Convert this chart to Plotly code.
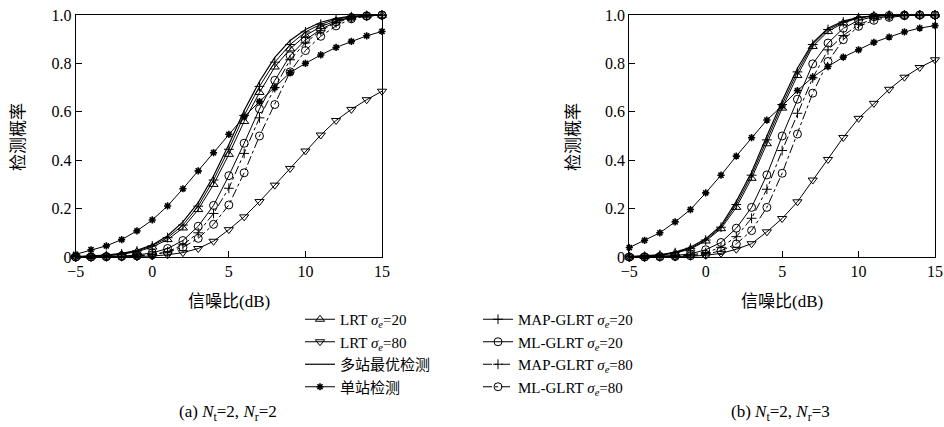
import plotly.graph_objects as go

snr = list(range(-5, 16))

# (a) Nt=2, Nr=2
a_lrt20 = [0.001,0.002,0.005,0.011,0.022,0.041,0.072,0.12,0.196,0.30,0.424,0.56,0.68,0.785,0.86,0.915,0.952,0.976,0.99,0.997,0.999]
a_lrt80 = [0.0,0.0,0.001,0.001,0.002,0.004,0.009,0.018,0.035,0.065,0.113,0.166,0.229,0.297,0.366,0.438,0.504,0.564,0.61,0.65,0.685]
a_opt = [0.002,0.004,0.008,0.015,0.028,0.05,0.088,0.145,0.225,0.335,0.465,0.605,0.725,0.825,0.895,0.94,0.97,0.986,0.995,0.998,1.0]
a_single = [0.011,0.03,0.046,0.072,0.108,0.153,0.211,0.282,0.356,0.431,0.507,0.58,0.642,0.70,0.762,0.80,0.835,0.866,0.891,0.914,0.932]
a_map20 = [0.001,0.003,0.006,0.013,0.025,0.046,0.08,0.132,0.21,0.318,0.445,0.585,0.705,0.805,0.878,0.93,0.962,0.982,0.993,0.998,1.0]
a_ml20 = [0.0,0.001,0.002,0.004,0.008,0.017,0.035,0.068,0.127,0.213,0.336,0.47,0.612,0.73,0.832,0.897,0.94,0.972,0.99,0.997,1.0]
a_map80 = [0.0,0.0,0.001,0.002,0.005,0.01,0.022,0.05,0.10,0.18,0.284,0.428,0.575,0.70,0.815,0.885,0.935,0.968,0.988,0.996,0.999]
a_ml80 = [0.0,0.0,0.001,0.002,0.004,0.009,0.02,0.04,0.077,0.135,0.215,0.348,0.50,0.63,0.765,0.853,0.912,0.955,0.984,0.995,0.999]

# (b) Nt=2, Nr=3
b_lrt20 = [0.0,0.002,0.007,0.016,0.033,0.066,0.117,0.205,0.325,0.468,0.615,0.75,0.87,0.932,0.967,0.988,0.996,0.999,1.0,1.0,1.0]
b_lrt80 = [0.0,0.0,0.0,0.001,0.003,0.007,0.015,0.032,0.055,0.104,0.159,0.228,0.318,0.403,0.494,0.573,0.635,0.693,0.743,0.783,0.815]
b_opt = [0.002,0.004,0.009,0.02,0.04,0.075,0.13,0.23,0.35,0.50,0.645,0.78,0.885,0.945,0.975,0.99,0.997,0.999,1.0,1.0,1.0]
b_single = [0.039,0.069,0.10,0.145,0.196,0.265,0.338,0.417,0.493,0.566,0.624,0.688,0.743,0.787,0.826,0.856,0.887,0.909,0.93,0.946,0.956]
b_map20 = [0.001,0.003,0.008,0.018,0.036,0.07,0.123,0.217,0.338,0.484,0.63,0.765,0.878,0.94,0.971,0.989,0.997,0.999,1.0,1.0,1.0]
b_ml20 = [0.0,0.001,0.002,0.006,0.013,0.03,0.06,0.119,0.205,0.339,0.50,0.652,0.798,0.884,0.945,0.978,0.993,0.998,1.0,1.0,1.0]
b_map80 = [0.0,0.0,0.001,0.003,0.008,0.018,0.04,0.084,0.16,0.28,0.44,0.594,0.74,0.856,0.915,0.96,0.985,0.995,0.999,1.0,1.0]
b_ml80 = [0.0,0.0,0.001,0.002,0.005,0.011,0.026,0.054,0.109,0.205,0.346,0.508,0.677,0.808,0.898,0.953,0.978,0.99,0.997,1.0,1.0]

names = ["LRT <i>σ</i><sub><i>e</i></sub>=20", "LRT <i>σ</i><sub><i>e</i></sub>=80",
         "多站最优检测", "单站检测",
         "MAP-GLRT <i>σ</i><sub><i>e</i></sub>=20", "ML-GLRT <i>σ</i><sub><i>e</i></sub>=20",
         "MAP-GLRT <i>σ</i><sub><i>e</i></sub>=80", "ML-GLRT <i>σ</i><sub><i>e</i></sub>=80"]

xticks = [-5, 0, 5, 10, 15]
yticks = [0, 0.2, 0.4, 0.6, 0.8, 1.0]
yticktext = ["0", "0.2", "0.4", "0.6", "0.8", "1.0"]

styles = [
    dict(sym="triangle-up-open", size=8, dash="solid", lw=1.0),
    dict(sym="triangle-down-open", size=8, dash="solid", lw=1.0),
    dict(sym=None, size=0, dash="solid", lw=1.2),
    dict(sym="asterisk-open", size=6, dash="solid", lw=1.0),
    dict(sym="cross-thin-open", size=7, dash="solid", lw=1.0),
    dict(sym="circle-open", size=8, dash="solid", lw=1.0),
    dict(sym="cross-thin-open", size=7, dash="dashdot", lw=1.0),
    dict(sym="circle-open", size=8, dash="dashdot", lw=1.0),
]
legends = ["legend", "legend", "legend", "legend", "legend2", "legend2", "legend2", "legend2"]

data_a = [a_lrt20, a_lrt80, a_opt, a_single, a_map20, a_ml20, a_map80, a_ml80]
data_b = [b_lrt20, b_lrt80, b_opt, b_single, b_map20, b_ml20, b_map80, b_ml80]

fig = go.Figure()

def add(ys, i, xa, ya, show):
    st = styles[i]
    mode = "lines+markers" if st["sym"] else "lines"
    marker = dict(symbol=st["sym"], size=st["size"], color="black",
                  line=dict(color="black", width=1.6 if "asterisk" in (st["sym"] or "") else 1.0)) if st["sym"] else None
    fig.add_trace(go.Scatter(
        x=snr, y=ys, mode=mode, name=names[i],
        line=dict(color="black", width=st["lw"], dash=st["dash"]),
        marker=marker, xaxis=xa, yaxis=ya, showlegend=show,
        legend=legends[i], cliponaxis=False))

for i, ys in enumerate(data_a):
    add(ys, i, "x", "y", True)
for i, ys in enumerate(data_b):
    add(ys, i, "x2", "y2", False)

serif = "Liberation Serif, Noto Sans CJK SC"
W, H = 944, 427
axis_common = dict(showgrid=False, zeroline=False, showline=True, mirror=True,
                   linecolor="black", linewidth=1, ticks="inside", ticklen=6,
                   tickcolor="black", tickwidth=1, automargin=False,
                   tickfont=dict(family=serif, size=16, color="black"))

ydom = [1 - 257 / H, 1 - 15 / H]
fig.update_layout(
    width=W, height=H, margin=dict(l=0, r=0, t=0, b=0, autoexpand=False),
    plot_bgcolor="white", paper_bgcolor="white",
    font=dict(family=serif, size=15, color="black"),
    xaxis=dict(domain=[75.7 / W, 382 / W], range=[-5, 15], tickvals=xticks, anchor="y", **axis_common),
    yaxis=dict(domain=ydom, range=[0, 1], tickvals=yticks, ticktext=yticktext, anchor="x", **axis_common),
    xaxis2=dict(domain=[629.3 / W, 935 / W], range=[-5, 15], tickvals=xticks, anchor="y2", **axis_common),
    yaxis2=dict(domain=ydom, range=[0, 1], tickvals=yticks, ticktext=yticktext, anchor="x2", **axis_common),
    legend=dict(x=300 / W, y=1 - 303 / H, xanchor="left", yanchor="top",
                bgcolor="rgba(0,0,0,0)", font=dict(family=serif, size=15), tracegroupgap=0),
    legend2=dict(x=478 / W, y=1 - 303 / H, xanchor="left", yanchor="top",
                 bgcolor="rgba(0,0,0,0)", font=dict(family=serif, size=15), tracegroupgap=0),
)

ann = []
for cx in (229 / W, 782 / W):
    ann.append(dict(x=cx, y=1 - 301 / H, xref="paper", yref="paper", text="信噪比(dB)",
                    showarrow=False, font=dict(family=serif, size=17), xanchor="center", yanchor="middle"))
for cx in (18 / W, 573 / W):
    ann.append(dict(x=cx, y=1 - 137 / H, xref="paper", yref="paper", text="检测概率",
                    showarrow=False, textangle=-90, font=dict(family=serif, size=17),
                    xanchor="center", yanchor="middle"))
ann.append(dict(x=228 / W, y=1 - 413 / H, xref="paper", yref="paper",
                text="(a) <i>N</i><sub>t</sub>=2, <i>N</i><sub>r</sub>=2", showarrow=False,
                font=dict(family=serif, size=17), xanchor="center", yanchor="middle"))
ann.append(dict(x=780 / W, y=1 - 413 / H, xref="paper", yref="paper",
                text="(b) <i>N</i><sub>t</sub>=2, <i>N</i><sub>r</sub>=3", showarrow=False,
                font=dict(family=serif, size=17), xanchor="center", yanchor="middle"))
fig.update_layout(annotations=ann)

fig.write_html("out.html", config={"displayModeBar": False},
               post_script="document.body.style.margin='0';document.body.style.overflow='hidden';")
